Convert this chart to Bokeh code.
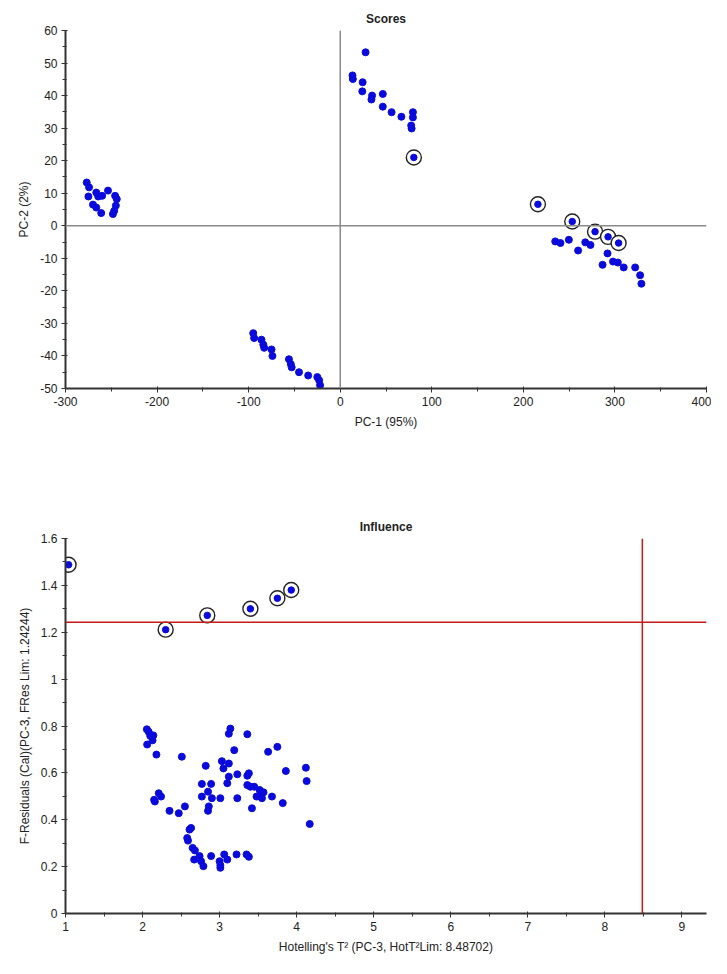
from bokeh.plotting import figure
from bokeh.layouts import column
from bokeh.models import Span, FixedTicker, NumeralTickFormatter, Range1d
from bokeh.embed import file_html
from bokeh.resources import INLINE

# ---------------- data: Scores ----------------
pc1 = [-276.8, -274.3, -275, -266.4, -264.3, -260, -253.6, -245.8, -244, -245, -246.8, -248.2, -270, -266.4, -261,
       -95, -94, -86, -84, -83, -75, -74, -56, -54, -53, -45, -35, -25, -23, -22,
       27.7, 13.4, 13.8, 24.5, 24.1, 34.8, 34.1, 46.5, 46.5, 56.1, 66.8, 79.4, 79.4, 77.5, 78,
       234.8, 240.5, 249.7, 259.8, 267.6, 273.3, 291.9, 286.5, 297.9, 303.2, 309.6, 322.1, 327.5, 328.9]
pc2 = [13.3, 11.8, 9.0, 10.2, 9.0, 9.2, 10.8, 9.2, 8.2, 6.2, 4.6, 3.6, 6.5, 5.6, 3.9,
       -33, -34.5, -35, -36.5, -37.5, -38, -40, -41, -42.5, -43.5, -45, -46, -46.5, -47.5, -49,
       53.3, 46.2, 45.1, 44.1, 41.3, 40.0, 38.8, 40.5, 36.6, 34.9, 33.5, 34.9, 33.3, 30.8, 29.9,
       -4.8, -5.3, -4.3, -7.6, -5.1, -5.9, -8.5, -12, -11, -11.3, -12.8, -12.8, -15.2, -17.8]
pc1_marked = [80.4, 215.9, 253.4, 278.3, 292.5, 304]
pc2_marked = [21.0, 6.6, 1.3, -1.8, -3.4, -5.3]
scores_xticks = [-300, -200, -100, 0, 100, 200, 300, 400]
scores_yticks = [-50, -40, -30, -20, -10, 0, 10, 20, 30, 40, 50, 60]

# ---------------- data: Influence ----------------
t2 = [2.056, 2.08, 2.10, 2.13, 2.14, 2.06, 2.18, 2.15, 2.16, 2.21, 2.24, 2.35, 2.47, 2.55, 2.51,
      2.63, 2.61, 2.58, 2.59, 2.65, 2.68, 2.67, 2.74, 2.76, 2.79, 2.77, 2.77, 2.82, 2.85, 2.86,
      2.85, 2.89, 2.90, 2.89, 3.00, 3.01, 3.01, 3.01, 3.03, 3.05, 3.06, 3.10, 3.10, 3.12, 3.12,
      3.12, 3.14, 3.19, 3.23, 3.23, 3.22, 3.35, 3.38, 3.36, 3.36, 3.38, 3.36, 3.40, 3.42, 3.45,
      3.48, 3.52, 3.54, 3.55, 3.57, 3.63, 3.68, 3.75, 3.82, 3.86, 4.12, 4.13, 4.17]
fres = [0.786, 0.775, 0.758, 0.739, 0.760, 0.721, 0.678, 0.485, 0.478, 0.513, 0.499, 0.438, 0.428, 0.457, 0.669,
        0.365, 0.358, 0.322, 0.311, 0.280, 0.269, 0.230, 0.245, 0.223, 0.202, 0.553, 0.499, 0.630, 0.520, 0.457,
        0.438, 0.553, 0.492, 0.245, 0.223, 0.206, 0.195, 0.492, 0.650, 0.619, 0.252, 0.230, 0.556, 0.584, 0.640,
        0.767, 0.789, 0.697, 0.594, 0.492, 0.252, 0.252, 0.242, 0.765, 0.588, 0.598, 0.548, 0.541, 0.449, 0.541,
        0.499, 0.527, 0.513, 0.492, 0.517, 0.690, 0.499, 0.711, 0.471, 0.608, 0.622, 0.565, 0.382]
t2_marked = [1.04, 2.30, 2.84, 3.40, 3.75, 3.93]
fres_marked = [1.488, 1.211, 1.272, 1.30, 1.345, 1.38]
fres_lim = 1.24244
hot_lim = 8.48702
infl_xticks = [1, 2, 3, 4, 5, 6, 7, 8, 9]
infl_yticks = [0, 0.2, 0.4, 0.6, 0.8, 1.0, 1.2, 1.4, 1.6]

FONT = "Liberation Sans"
BLUE = "#0a0adc"
AXC = "#333333"
TXT = "#222222"


def style(p):
    p.outline_line_color = None
    p.grid.visible = False
    p.title.align = "center"
    p.title.text_font = FONT
    p.title.text_font_size = "12px"
    p.title.text_font_style = "bold"
    p.title.text_color = TXT
    for ax in (p.xaxis[0], p.yaxis[0]):
        ax.axis_line_color = AXC
        ax.axis_line_width = 2
        ax.major_tick_line_color = AXC
        ax.minor_tick_line_color = AXC
        ax.major_tick_out = 4
        ax.major_tick_in = 2
        ax.minor_tick_out = 3
        ax.minor_tick_in = 1
        ax.major_label_text_font = FONT
        ax.major_label_text_font_size = "12px"
        ax.major_label_text_color = TXT
        ax.axis_label_text_font = FONT
        ax.axis_label_text_font_size = "12px"
        ax.axis_label_text_font_style = "normal"
        ax.axis_label_text_color = TXT
        ax.major_label_standoff = 4
        ax.axis_label_standoff = 6


# ---------------- Scores figure ----------------
p1 = figure(width=711, height=497, output_backend="svg", toolbar_location=None,
            title="Scores", x_range=Range1d(-300, 400), y_range=Range1d(-50, 60),
            min_border_left=51, min_border_right=5, min_border_top=30, min_border_bottom=109)
style(p1)
p1.xaxis.axis_label = "PC-1 (95%)"
p1.yaxis.axis_label = "PC-2 (2%)"
p1.xaxis.ticker = FixedTicker(ticks=scores_xticks, minor_ticks=[v + 50 for v in scores_xticks[:-1]])
p1.yaxis.ticker = FixedTicker(ticks=scores_yticks, minor_ticks=[v + 5 for v in scores_yticks[:-1]])
p1.xaxis.formatter = NumeralTickFormatter(format="0")
p1.yaxis.formatter = NumeralTickFormatter(format="0")
p1.add_layout(Span(location=0, dimension="height", line_color="#8a8a8a", line_width=1.5))
p1.add_layout(Span(location=0, dimension="width", line_color="#8a8a8a", line_width=1.5))
p1.scatter(pc1, pc2, size=7, fill_color=BLUE, line_color=BLUE)
p1.scatter(pc1_marked, pc2_marked, size=15, fill_color="white", line_color="#222222", line_width=1.4)
p1.scatter(pc1_marked, pc2_marked, size=6.5, fill_color=BLUE, line_color=BLUE)

# ---------------- Influence figure ----------------
p2 = figure(width=711, height=461, output_backend="svg", toolbar_location=None,
            title="Influence", x_range=Range1d(1, 9.32), y_range=Range1d(0, 1.6),
            min_border_left=65, min_border_right=4, min_border_top=41, min_border_bottom=45)
style(p2)
p2.xaxis.axis_label = "Hotelling's T\u00b2 (PC-3, HotT\u00b2Lim: 8.48702)"
p2.yaxis.axis_label = "F-Residuals (Cal)(PC-3, FRes Lim: 1.24244)"
p2.xaxis.ticker = FixedTicker(ticks=infl_xticks, minor_ticks=[v + 0.5 for v in infl_xticks])
p2.yaxis.ticker = FixedTicker(ticks=infl_yticks, minor_ticks=[round(v + 0.1, 2) for v in infl_yticks[:-1]])
p2.yaxis.formatter = NumeralTickFormatter(format="0.[0]")
p2.add_layout(Span(location=fres_lim, dimension="width", line_color="#c41a1a", line_width=1.5))
p2.add_layout(Span(location=hot_lim, dimension="height", line_color="#c41a1a", line_width=1.5))
p2.scatter(t2, fres, size=7, fill_color=BLUE, line_color=BLUE)
p2.scatter(t2_marked, fres_marked, size=15, fill_color="white", line_color="#222222", line_width=1.4)
p2.scatter(t2_marked, fres_marked, size=6.5, fill_color=BLUE, line_color=BLUE)

layout = column(p1, p2, spacing=0)
open("out.html", "w").write(file_html(layout, INLINE))
